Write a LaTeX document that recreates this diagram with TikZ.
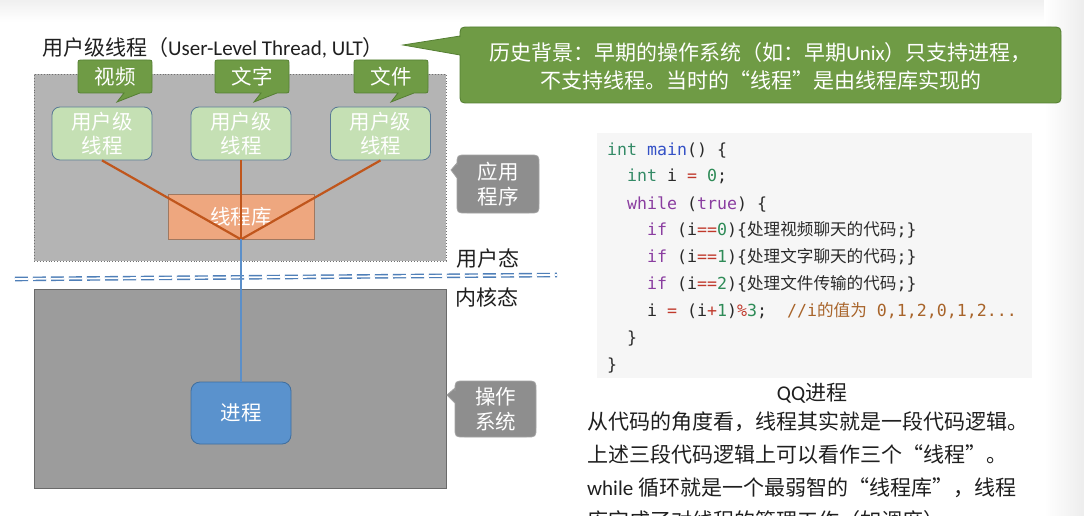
\documentclass[tikz,border=0pt]{standalone}
\usepackage{fontspec}
\setmainfont{Carlito}
\setmonofont{DejaVu Sans Mono}
\newfontfamily\cjkfont{Noto Sans CJK SC}
\usetikzlibrary{calc}

\definecolor{userfill}{HTML}{B4B4B4}
\definecolor{userline}{HTML}{707070}
\definecolor{kernfill}{HTML}{9C9C9C}
\definecolor{kernline}{HTML}{6A6A6A}
\definecolor{bubgreen}{HTML}{6F9B45}
\definecolor{bubgreenline}{HTML}{557F33}
\definecolor{ultfill}{HTML}{C5E0B4}
\definecolor{ultline}{HTML}{5A7A95}
\definecolor{libfill}{HTML}{EEA77F}
\definecolor{libline}{HTML}{A07860}
\definecolor{linkbrown}{HTML}{C0561C}
\definecolor{procfill}{HTML}{5A92CD}
\definecolor{procline}{HTML}{3F6E9E}
\definecolor{linkblue}{HTML}{5B8FC9}
\definecolor{sepblue}{HTML}{4F7FB8}
\definecolor{tipgray}{HTML}{8E8E8E}
\definecolor{tipgrayline}{HTML}{A2A2A2}
\definecolor{codebg}{HTML}{F6F6F6}
\definecolor{codetype}{HTML}{338A66}
\definecolor{codenum}{HTML}{2E8B57}
\definecolor{codefn}{HTML}{3451C6}
\definecolor{codekey}{HTML}{8A3DA0}
\definecolor{codeop}{HTML}{C0392B}
\definecolor{codecm}{HTML}{A8642A}
\definecolor{codetext}{HTML}{2A2A2A}

% code colouring helpers
\newcommand\ctype[1]{\textcolor{codetype}{#1}}
\newcommand\cnum[1]{\textcolor{codenum}{#1}}
\newcommand\cfn[1]{\textcolor{codefn}{#1}}
\newcommand\ckey[1]{\textcolor{codekey}{#1}}
\newcommand\cop[1]{\textcolor{codeop}{#1}}
\newcommand\ccm[1]{\textcolor{codecm}{#1}}
\newcommand\lat[1]{{\rmfamily #1}}

% corner radius of the speech bubbles
\def\bubr{5}
% bubble with its tail on the bottom edge:
% [style]{x1}{y1}{x2}{y2}{tail base left}{tail base right}{tip x}{tip y}
\newcommand\bubbottom[9][]{%
  \draw[#1] (#2+\bubr,#3) -- (#4-\bubr,#3) .. controls (#4,#3) .. (#4,#3+\bubr)
    -- (#4,#5-\bubr) .. controls (#4,#5) .. (#4-\bubr,#5)
    -- (#7,#5) -- (#8,#9) -- (#6,#5)
    -- (#2+\bubr,#5) .. controls (#2,#5) .. (#2,#5-\bubr)
    -- (#2,#3+\bubr) .. controls (#2,#3) .. (#2+\bubr,#3) -- cycle;}
% bubble with its tail on the left edge:
% [style]{x1}{y1}{x2}{y2}{tail base top}{tail base bottom}{tip x}{tip y}
\newcommand\bubleft[9][]{%
  \draw[#1] (#2+\bubr,#3) -- (#4-\bubr,#3) .. controls (#4,#3) .. (#4,#3+\bubr)
    -- (#4,#5-\bubr) .. controls (#4,#5) .. (#4-\bubr,#5)
    -- (#2+\bubr,#5) .. controls (#2,#5) .. (#2,#5-\bubr)
    -- (#2,#7) -- (#8,#9) -- (#2,#6)
    -- (#2,#3+\bubr) .. controls (#2,#3) .. (#2+\bubr,#3) -- cycle;}

\begin{document}
\begin{tikzpicture}[x=1pt,y=-1pt,
  greenbub/.style={fill=bubgreen,draw=bubgreenline,line width=0.8pt},
  graybub/.style={fill=tipgray,draw=tipgrayline,line width=0.8pt},
  bubtext/.style={text=white,align=center,inner sep=0,
    font=\cjkfont\fontsize{20.5}{25}\selectfont},
  ultbox/.style={draw=ultline,fill=ultfill,line width=0.8pt,rounded corners=8pt,
    minimum width=100pt,minimum height=53pt,inner sep=0,align=center,
    text=white,font=\cjkfont\fontsize{20.5}{24}\selectfont},
  plaintext/.style={inner sep=0,text=black!88,font=\cjkfont\fontsize{21}{26}\selectfont},
  codeline/.style={anchor=base west,inner sep=0,text=codetext,
    font=\ttfamily\fontsize{16.6}{20}\selectfont},
  linkline/.style={draw=linkbrown,line width=2.2pt},
]
\useasboundingbox (0,0) rectangle (1084,516);
\fill[white] (0,0) rectangle (1084,516);
\shade[top color=black!6,bottom color=white] (0,0) rectangle (1084,22);
\shade[left color=white,right color=black!7] (1044,0) rectangle (1084,516);

% user space and kernel space panels
\node[draw=userline,dotted,line width=0.9pt,fill=userfill,
      minimum width=412pt,minimum height=187pt,inner sep=0] (userspace) at (240,167.5) {};
\node[draw=kernline,line width=0.9pt,fill=kernfill,
      minimum width=412pt,minimum height=199pt,inner sep=0] (kernelspace) at (240,388.5) {};

% boundary between user mode and kernel mode
\coordinate (sepL) at (15,279);
\coordinate (sepR) at (557,275);
\draw[draw=sepblue,line width=1.4pt,double=white,double distance=1.8pt,
      dash pattern=on 13pt off 5pt] (sepL) -- (sepR);

% thread library and the user-level threads
\node[draw=libline,fill=libfill,line width=0.8pt,minimum width=146pt,minimum height=45pt,
      inner sep=0,text=white,font=\cjkfont\fontsize{20.5}{24}\selectfont] (lib) at (241,216.5) {线程库};
\node[ultbox] (u1) at (102,133.5) {用户级\\线程};
\node[ultbox] (u2) at (241,133.5) {用户级\\线程};
\node[ultbox] (u3) at (380.5,133.5) {用户级\\线程};
\draw[linkline] (u1.south) -- (lib.south);
\draw[linkline] (u2.south) -- (lib.south);
\draw[linkline] (u3.south) -- (lib.south);

% the process seen by the kernel
\node[draw=procline,fill=procfill,line width=0.8pt,rounded corners=9pt,
      minimum width=100pt,minimum height=62pt,inner sep=0,text=white,
      font=\cjkfont\fontsize{20.5}{24}\selectfont] (proc) at (241,413) {进程};
\draw[draw=linkblue,line width=2pt] (lib.south) -- (proc.north);

% title
\node[plaintext,anchor=base west] (title) at (42,56) {用户级线程（\lat{User-Level Thread, ULT}）};

% labels of the three threads
\bubbottom[greenbub]{78}{60}{152}{93}{124}{140}{117}{102}
\node[bubtext] (vid) at (115,76.5) {视频};
\bubbottom[greenbub]{215}{60}{289}{93}{261}{277}{254}{102}
\node[bubtext] (txt) at (252,76.5) {文字};
\bubbottom[greenbub]{354}{60}{428}{93}{398}{414}{391}{102}
\node[bubtext] (fil) at (391,76.5) {文件};

% historical note
\def\bubr{10}
\bubleft[greenbub]{460}{27}{1061}{103}{36}{55}{403}{45}
\node[bubtext,font=\cjkfont\fontsize{21}{28}\selectfont] (history) at (760.5,66)
  {历史背景：早期的操作系统（如：早期\lat{Unix}）只支持进程，\\不支持线程。当时的“线程”是由线程库实现的};

% side notes for the two panels
\bubleft[graybub]{457}{155}{539}{213}{163}{178}{451}{170}
\node[bubtext] (app) at (498,184) {应用\\程序};
\bubleft[graybub]{455}{381}{536}{437}{388}{403}{447}{395}
\node[bubtext] (os) at (495.5,409) {操作\\系统};

% mode labels
\node[plaintext,anchor=base west] (umode) at (456,266) {用户态};
\node[plaintext,anchor=base west] (kmode) at (455,305) {内核态};

% the QQ process loop
\node[fill=codebg,minimum width=435pt,minimum height=245pt,inner sep=0] (codepanel) at (814.5,255.5) {};
\node[codeline] (c1) at (607,155) {\ctype{int} \cfn{main}() \{};
\node[codeline] (c2) at (627,182) {\ctype{int} i \cop{=} \cnum{0};};
\node[codeline] (c3) at (627,209) {\ckey{while} (\ckey{true}) \{};
\node[codeline] (c4) at (647,235) {\ckey{if} (i\cop{==}\cnum{0})\{{\cjkfont 处理视频聊天的代码};\}};
\node[codeline] (c5) at (647,262) {\ckey{if} (i\cop{==}\cnum{1})\{{\cjkfont 处理文字聊天的代码};\}};
\node[codeline] (c6) at (647,289) {\ckey{if} (i\cop{==}\cnum{2})\{{\cjkfont 处理文件传输的代码};\}};
\node[codeline] (c7) at (647,316) {i \cop{=} (i\cop{+}\cnum{1})\cop{\%}\cnum{3};\ \ \ccm{//i{\cjkfont 的值为} 0,1,2,0,1,2...}};
\node[codeline] (c8) at (627,343) {\}};
\node[codeline] (c9) at (607,370) {\}};
\node[plaintext,anchor=base] (qq) at (812,400) {\lat{QQ}进程};

% explanation
\node[plaintext,anchor=base west] (p1) at (587,429) {从代码的角度看，线程其实就是一段代码逻辑。};
\node[plaintext,anchor=base west] (p2) at (587,462.5) {上述三段代码逻辑上可以看作三个“线程”。};
\node[plaintext,anchor=base west] (p3) at (587,495.5) {\lat{while} 循环就是一个最弱智的“线程库”，线程};
\node[plaintext,anchor=base west] (p4) at (587,528.5) {库完成了对线程的管理工作（如调度）};
\end{tikzpicture}
\end{document}
